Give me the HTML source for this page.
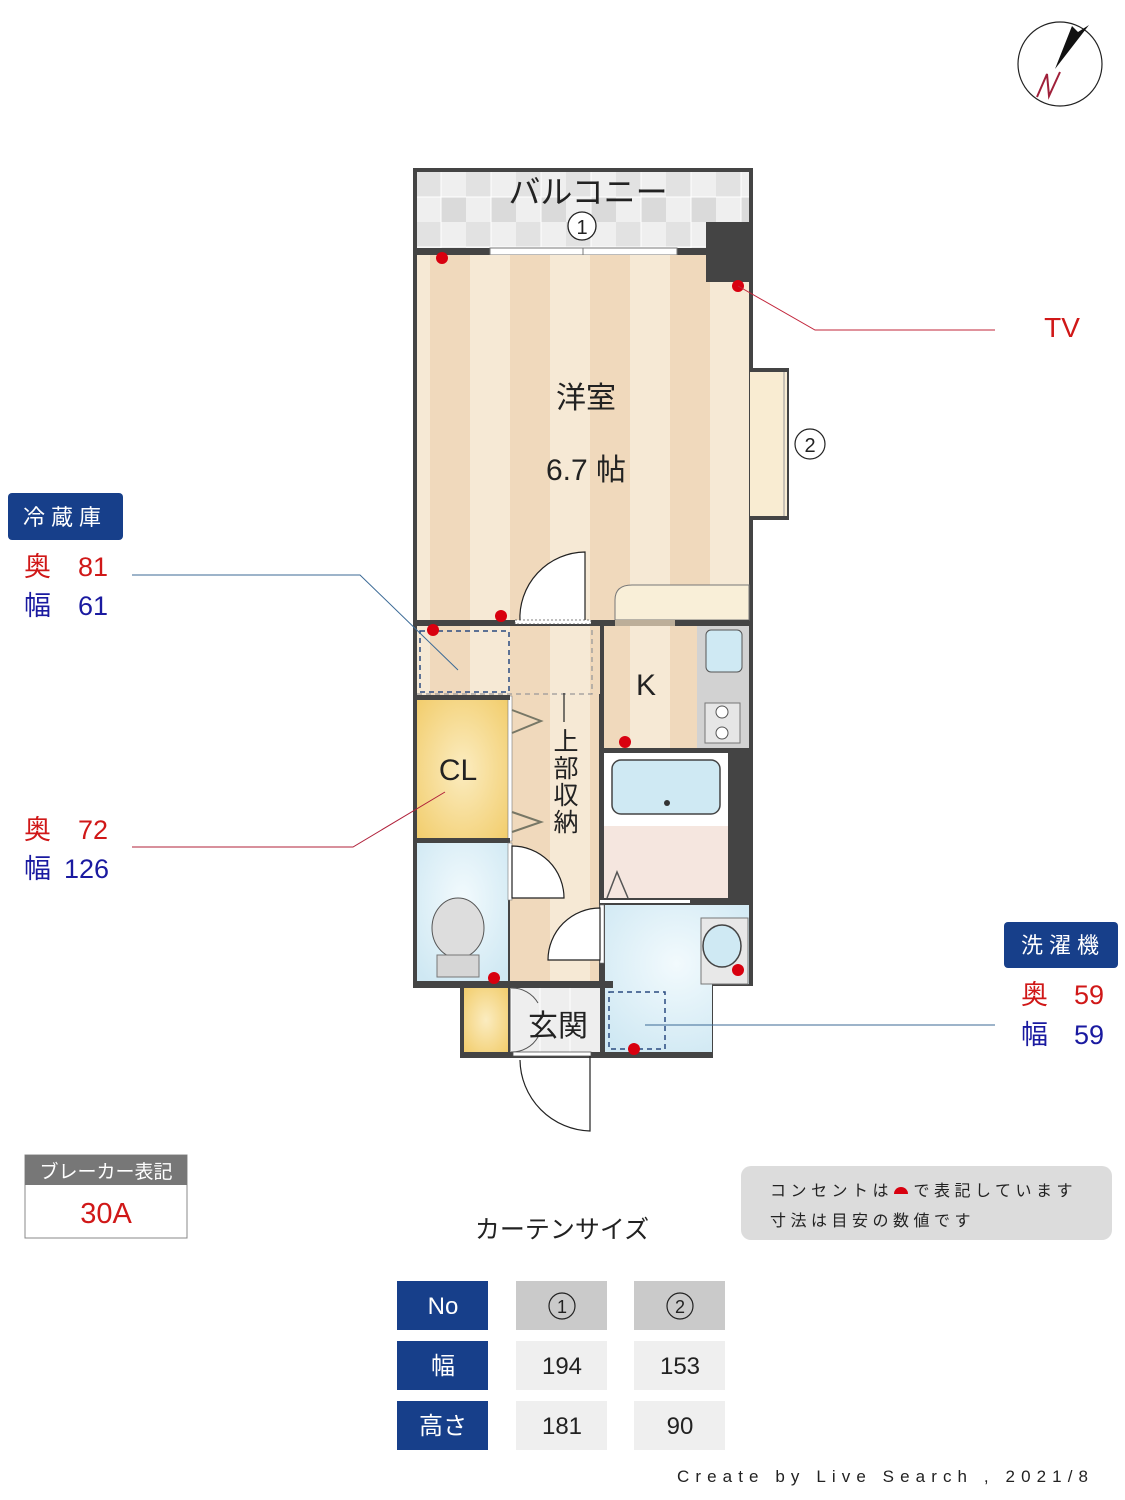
<!DOCTYPE html>
<html><head><meta charset="utf-8"><style>
body{margin:0;background:#fff;}
svg{display:block;}
text{font-family:"Liberation Sans","Noto Sans CJK JP",sans-serif;}
</style></head><body>
<svg width="1125" height="1500" viewBox="0 0 1125 1500" xmlns="http://www.w3.org/2000/svg">
<defs>
<pattern id="st" x="430" y="0" width="80" height="10" patternUnits="userSpaceOnUse">
<rect width="80" height="10" fill="#f6e9d5"/><rect width="40" height="10" fill="#f0d9bc"/>
</pattern>
<pattern id="tile" x="416" y="172" width="50" height="50" patternUnits="userSpaceOnUse">
<rect width="50" height="50" fill="#efefef"/><rect width="25" height="25" fill="#e2e2e2"/><rect x="25" y="25" width="25" height="25" fill="#dadada"/>
<path d="M0 25H50M25 0V50" stroke="#fff" stroke-width="1"/>
</pattern>
<radialGradient id="bl" cx="0.5" cy="0.4" r="0.7"><stop offset="0" stop-color="#f2fafd"/><stop offset="1" stop-color="#cfe8f3"/></radialGradient>
<radialGradient id="yl" cx="0.5" cy="0.5" r="0.7"><stop offset="0" stop-color="#fbecc0"/><stop offset="1" stop-color="#f2cd6c"/></radialGradient>
</defs>

<!-- compass -->
<circle cx="1060" cy="64" r="42" fill="#fff" stroke="#222" stroke-width="1.2"/>
<path d="M1055 69 L1072 26 L1078 32 L1089 25 Z" fill="#111"/>
<path d="M1037 97 L1047 74 L1049 96 L1060 72" fill="none" stroke="#a0203a" stroke-width="2"/>

<!-- outer walls -->
<rect x="413" y="168" width="340" height="818" fill="#444"/>
<rect x="460" y="983" width="253" height="75" fill="#444"/>
<rect x="749" y="368" width="40" height="152" fill="#444"/>
<!-- balcony -->
<rect x="417" y="172" width="332" height="76" fill="url(#tile)"/>
<rect x="706" y="222" width="43" height="60" fill="#444"/>
<rect x="490" y="248" width="187" height="7" fill="#fff" stroke="#777" stroke-width="1"/>
<line x1="583" y1="248" x2="583" y2="255" stroke="#777"/>
<text x="588" y="203" font-size="32" text-anchor="middle" fill="#222">バルコニー</text>
<circle cx="582" cy="226" r="14" fill="#fff" stroke="#222" stroke-width="1.3"/>
<text x="582" y="234" font-size="20" text-anchor="middle" fill="#222">1</text>
<!-- western room -->
<path d="M417 255 H706 V282 H749 V620 H417 Z" fill="url(#st)"/>
<rect x="750" y="372" width="37" height="144" fill="#f9ecd2"/>
<line x1="784" y1="372" x2="784" y2="516" stroke="#999"/>
<circle cx="810" cy="444" r="15" fill="#fff" stroke="#222" stroke-width="1.2"/>
<text x="810" y="452" font-size="20" text-anchor="middle" fill="#222">2</text>
<text x="586" y="408" font-size="30" text-anchor="middle" fill="#222">洋室</text>
<text x="586" y="480" font-size="30" text-anchor="middle" fill="#222">6.7 帖</text>
<path d="M615 620 V600 Q615 585 632 585 H749 V620 Z" fill="#f9efd8" stroke="#777"/>
<path d="M585 552 V622 H520 A66 66 0 0 1 585 552 Z" fill="#fff" stroke="#222" stroke-width="1.2"/>
<rect x="417" y="620" width="332" height="6" fill="#444"/>
<rect x="515" y="620" width="76" height="4" fill="#fff" stroke="#555" stroke-dasharray="2 2" stroke-width="0.8"/>
<rect x="615" y="620" width="60" height="6" fill="#bcae99"/>
<rect x="417" y="626" width="183" height="70" fill="url(#st)"/>
<rect x="510" y="696" width="90" height="288" fill="url(#st)"/>
<path d="M417 694 H592 V626" fill="none" stroke="#999" stroke-dasharray="5 4" stroke-width="1.3"/>
<rect x="420" y="631" width="89" height="61" fill="none" stroke="#2a4b80" stroke-dasharray="5 4" stroke-width="1.5"/>
<rect x="599" y="694" width="5" height="290" fill="#444"/>
<rect x="604" y="626" width="93" height="122" fill="url(#st)"/>
<rect x="697" y="626" width="52" height="122" fill="#d2d2d2"/>
<rect x="706" y="630" width="36" height="42" rx="5" fill="#cfe9f3" stroke="#555"/>
<rect x="705" y="703" width="35" height="40" fill="#e6e6e6" stroke="#777"/>
<circle cx="722" cy="712" r="6" fill="#fff" stroke="#555"/><circle cx="722" cy="733" r="6" fill="#fff" stroke="#555"/>
<text x="646" y="695" font-size="30" text-anchor="middle" fill="#222">K</text>
<rect x="600" y="748" width="153" height="5" fill="#444"/>
<rect x="417" y="699" width="91" height="140" fill="url(#yl)"/>
<rect x="508" y="696" width="4" height="145" fill="#fff" stroke="#777" stroke-width="0.6"/>
<rect x="413" y="695" width="97" height="5" fill="#444"/>
<rect x="413" y="838" width="97" height="5" fill="#444"/>
<text x="458" y="780" font-size="30" text-anchor="middle" fill="#222">CL</text>
<path d="M512 710 L541 721 L512 733" fill="none" stroke="#776" stroke-width="2"/>
<path d="M512 812 L541 822 L512 832" fill="none" stroke="#776" stroke-width="2"/>
<line x1="564" y1="693" x2="564" y2="722" stroke="#222" stroke-width="1.2"/>
<text font-size="25" fill="#222" text-anchor="middle"><tspan x="566" y="750">上</tspan><tspan x="566" y="777">部</tspan><tspan x="566" y="804">収</tspan><tspan x="566" y="831">納</tspan></text>
<rect x="417" y="843" width="91" height="141" fill="url(#bl)"/>
<rect x="508" y="843" width="4" height="57" fill="#fff" stroke="#777" stroke-width="0.6"/>
<path d="M512 846 A52 52 0 0 1 564 898 H512 Z" fill="#fff" stroke="#222" stroke-width="1.2"/>
<ellipse cx="458" cy="928" rx="26" ry="30" fill="#ddd" stroke="#555"/>
<rect x="437" y="955" width="42" height="22" fill="#d6d6d6" stroke="#777"/>
<rect x="604" y="753" width="124" height="73" fill="#fff"/>
<rect x="612" y="760" width="108" height="54" rx="9" fill="#cfe9f3" stroke="#444" stroke-width="1.5"/>
<circle cx="667" cy="803" r="3" fill="#333"/>
<rect x="728" y="753" width="25" height="152" fill="#444"/>
<rect x="604" y="826" width="124" height="74" fill="#f5e6df"/>
<path d="M607 898 L617 872 L628 898" fill="none" stroke="#555" stroke-width="1.5"/>
<rect x="600" y="898" width="128" height="5" fill="#444"/>
<rect x="600" y="900" width="90" height="3" fill="#fff"/>
<path d="M604 905 H749 V984 H712 V1052 H604 Z" fill="url(#bl)"/>
<rect x="701" y="918" width="47" height="66" fill="#e8e8e8" stroke="#777"/>
<ellipse cx="722" cy="946" rx="19" ry="21" fill="#cfe9f3" stroke="#444" stroke-width="1.5"/>
<rect x="600" y="903" width="5" height="152" fill="#444"/>
<rect x="600" y="905" width="4" height="58" fill="#fff" stroke="#777" stroke-width="0.6"/>
<path d="M600 908 A52 52 0 0 0 548 960 H600 Z" fill="#fff" stroke="#222" stroke-width="1.2"/>
<rect x="609" y="992" width="56" height="57" fill="none" stroke="#2a4b80" stroke-dasharray="5 4" stroke-width="1.5"/>
<rect x="413" y="981" width="200" height="7" fill="#444"/>
<rect x="464" y="988" width="44" height="64" fill="url(#yl)"/>
<rect x="508" y="985" width="3" height="70" fill="#444"/>
<rect x="511" y="988" width="89" height="64" fill="#eee"/>
<path d="M511 988 V1052 M540 988 V1052 M570 988 V1052" stroke="#fff"/>
<path d="M511 988 A30 30 0 0 1 538 1003 M511 1052 A30 30 0 0 0 538 1037" fill="none" stroke="#555"/>
<text x="558" y="1036" font-size="30" text-anchor="middle" fill="#222">玄関</text>
<rect x="513" y="1052" width="78" height="4" fill="#fff" stroke="#555" stroke-width="0.8"/>
<path d="M590 1056 V1131 A72 72 0 0 1 520 1060" fill="none" stroke="#222" stroke-width="1.2"/>

<g fill="#d8000f">
<circle cx="442" cy="258" r="6"/><circle cx="738" cy="286" r="6"/><circle cx="501" cy="616" r="6"/><circle cx="433" cy="630" r="6"/>
<circle cx="625" cy="742" r="6"/><circle cx="494" cy="978" r="6"/><circle cx="738" cy="970" r="6"/><circle cx="634" cy="1049" r="6"/>
</g>

<polyline points="738,286 815,330 995,330" fill="none" stroke="#c2243a" stroke-width="1"/>
<polyline points="132,575 360,575 458,670" fill="none" stroke="#3b6a96" stroke-width="1"/>
<polyline points="132,847 353,847 445,792" fill="none" stroke="#b0203a" stroke-width="1"/>
<line x1="645" y1="1025" x2="995" y2="1025" stroke="#3b6a96" stroke-width="1"/>

<text x="1062" y="337" font-size="28" text-anchor="middle" fill="#d01818">TV</text>

<rect x="8" y="493" width="115" height="47" rx="4" fill="#173f8a"/>
<text x="65" y="525" font-size="22" text-anchor="middle" fill="#fff" letter-spacing="6">冷蔵庫</text>
<text x="24" y="576" font-size="27" fill="#d01818">奥</text><text x="78" y="576" font-size="27" fill="#d01818">81</text>
<text x="24" y="615" font-size="27" fill="#1a1aa0">幅</text><text x="78" y="615" font-size="27" fill="#1a1aa0">61</text>
<text x="24" y="839" font-size="27" fill="#d01818">奥</text><text x="78" y="839" font-size="27" fill="#d01818">72</text>
<text x="24" y="878" font-size="27" fill="#1a1aa0">幅</text><text x="64" y="878" font-size="27" fill="#1a1aa0">126</text>

<rect x="1004" y="922" width="114" height="46" rx="4" fill="#173f8a"/>
<text x="1063" y="953" font-size="22" text-anchor="middle" fill="#fff" letter-spacing="6">洗濯機</text>
<text x="1021" y="1004" font-size="27" fill="#d01818">奥</text><text x="1074" y="1004" font-size="27" fill="#d01818">59</text>
<text x="1021" y="1044" font-size="27" fill="#1a1aa0">幅</text><text x="1074" y="1044" font-size="27" fill="#1a1aa0">59</text>

<rect x="25" y="1155" width="162" height="83" fill="#fff" stroke="#888"/>
<rect x="25" y="1155" width="162" height="30" fill="#777"/>
<text x="106" y="1178" font-size="19" text-anchor="middle" fill="#fff">ブレーカー表記</text>
<text x="106" y="1223" font-size="29" text-anchor="middle" fill="#d01818">30A</text>

<rect x="741" y="1166" width="371" height="74" rx="10" fill="#dcdcdc"/>
<text x="770" y="1196" font-size="16" fill="#222" letter-spacing="4.5">コンセントは　で表記しています</text>
<path d="M894 1194 A7 7 0 0 1 908 1194 Z" fill="#d8000f"/>
<text x="770" y="1226" font-size="16" fill="#222" letter-spacing="4.5">寸法は目安の数値です</text>

<text x="562" y="1238" font-size="25" text-anchor="middle" fill="#222">カーテンサイズ</text>
<g font-size="24" text-anchor="middle">
<rect x="397" y="1281" width="91" height="49" fill="#173f8a"/><text x="443" y="1314" fill="#fff">No</text>
<rect x="397" y="1341" width="91" height="49" fill="#173f8a"/><text x="443" y="1374" fill="#fff">幅</text>
<rect x="397" y="1401" width="91" height="49" fill="#173f8a"/><text x="443" y="1434" fill="#fff">高さ</text>
<rect x="516" y="1281" width="91" height="49" fill="#cacaca"/>
<rect x="634" y="1281" width="91" height="49" fill="#cacaca"/>
<circle cx="562" cy="1306" r="13" fill="none" stroke="#222" stroke-width="1.2"/><text x="562" y="1313" font-size="18" fill="#222">1</text>
<circle cx="680" cy="1306" r="13" fill="none" stroke="#222" stroke-width="1.2"/><text x="680" y="1313" font-size="18" fill="#222">2</text>
<rect x="516" y="1341" width="91" height="49" fill="#efefef"/><text x="562" y="1374" fill="#222">194</text>
<rect x="634" y="1341" width="91" height="49" fill="#efefef"/><text x="680" y="1374" fill="#222">153</text>
<rect x="516" y="1401" width="91" height="49" fill="#efefef"/><text x="562" y="1434" fill="#222">181</text>
<rect x="634" y="1401" width="91" height="49" fill="#efefef"/><text x="680" y="1434" fill="#222">90</text>
</g>
<text x="677" y="1482" font-size="17" fill="#222" textLength="411" lengthAdjust="spacing" font-family="Liberation Mono, monospace">Create by Live Search , 2021/8</text>
</svg>
</body></html>
